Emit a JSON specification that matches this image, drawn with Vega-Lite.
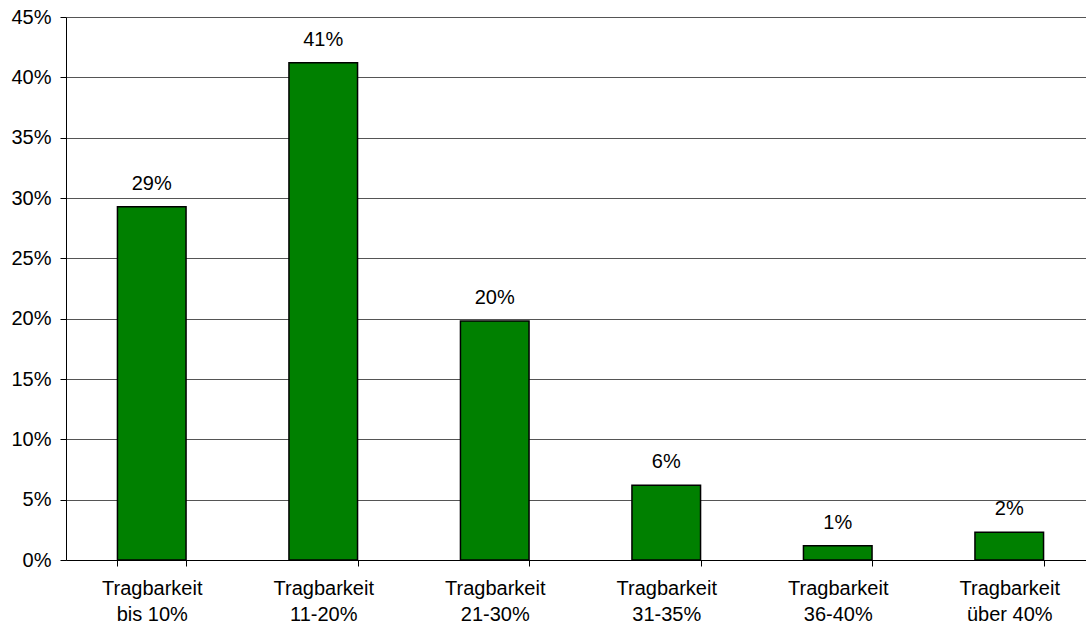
{
  "$schema": "https://vega.github.io/schema/vega-lite/v6.json",
  "autosize": "none",
  "width": 1020,
  "height": 543,
  "padding": {"left": 66, "top": 17, "right": 0, "bottom": 66},
  "background": "white",
  "config": {
    "view": {"stroke": null},
    "font": "Liberation Sans",
    "axis": {
      "labelFont": "Liberation Sans",
      "labelFontSize": 20,
      "labelColor": "black",
      "domainColor": "black",
      "tickColor": "black",
      "tickSize": 6
    }
  },
  "data": {
    "values": [
      {"kategorie": "Tragbarkeit|bis 10%", "anteil": 0.2927},
      {"kategorie": "Tragbarkeit|11-20%", "anteil": 0.412},
      {"kategorie": "Tragbarkeit|21-30%", "anteil": 0.198},
      {"kategorie": "Tragbarkeit|31-35%", "anteil": 0.062},
      {"kategorie": "Tragbarkeit|36-40%", "anteil": 0.0118},
      {"kategorie": "Tragbarkeit|über 40%", "anteil": 0.023}
    ]
  },
  "encoding": {
    "x": {
      "field": "kategorie",
      "type": "nominal",
      "sort": null,
      "scale": {"paddingInner": 0.6, "paddingOuter": 0.3, "range": [0, 1029]},
      "axis": {
        "title": null,
        "labelAngle": 0,
        "labelExpr": "datum.value ? split(datum.value, '|') : ''",
        "labelLineHeight": 26,
        "labelPadding": 12,
        "tickBand": "extent",
        "ticks": true,
        "grid": false
      }
    },
    "y": {
      "field": "anteil",
      "type": "quantitative",
      "scale": {"domain": [0, 0.45], "nice": false},
      "axis": {
        "title": null,
        "format": ".0%",
        "values": [0, 0.05, 0.1, 0.15, 0.2, 0.25, 0.3, 0.35, 0.4, 0.45],
        "grid": true,
        "gridColor": "#555555",
        "gridWidth": 1,
        "labelPadding": 9
      }
    }
  },
  "layer": [
    {
      "mark": {"type": "bar", "fill": "#008000", "stroke": "black", "strokeWidth": 1.5}
    },
    {
      "mark": {"type": "text", "dy": -17, "baseline": "alphabetic", "fontSize": 20, "color": "black"},
      "encoding": {
        "text": {"field": "anteil", "type": "quantitative", "format": ".0%"}
      }
    }
  ]
}
